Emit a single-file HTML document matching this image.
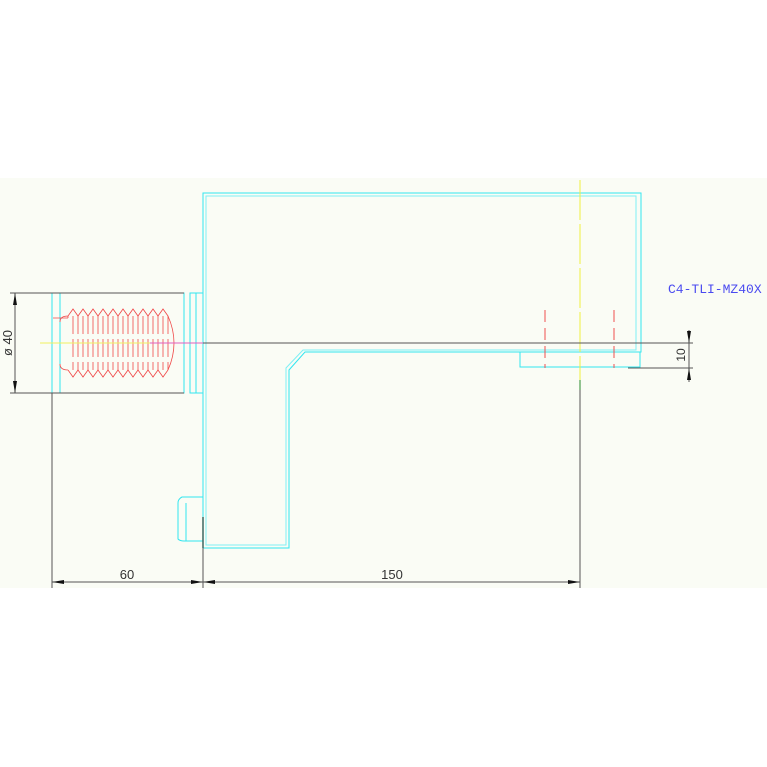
<!DOCTYPE html>
<html><head><style>body{margin:0;background:#fff}svg{display:block}</style></head><body>
<svg width="767" height="767" viewBox="0 0 767 767" xmlns="http://www.w3.org/2000/svg" font-family="Liberation Sans, sans-serif">
<rect x="0" y="178" width="767" height="410" fill="#fafcf5"/>
<g fill="none" stroke="#33e6f0" stroke-width="1">
<path d="M203,548 V193 H641 V352 H305 L289,370 V548 Z"/>
<path d="M206,545 V196 H636 V350 H303 L286,368 V545 Z" stroke="#7ff0f5"/>
<rect x="520" y="352" width="120" height="15"/>
<rect x="190" y="293" width="13" height="100"/>
<line x1="196" y1="293" x2="196" y2="393"/>
<rect x="52" y="293" width="132" height="100"/>
<line x1="60" y1="293" x2="60" y2="393"/>
<path d="M203,497 H182 Q178,499 178,503 V539 Q180,541 184,541 H203"/>
<line x1="186" y1="503" x2="186" y2="541"/>
</g>
<line x1="203" y1="517" x2="203" y2="548" stroke="#0a8a7a" stroke-width="1.5"/>
<g stroke="#f04848" stroke-width="0.8" fill="none">
<path d="M68,318 H53 M53,318 L60,318"/>
<path d="M60,322 Q60,316 68,316 L68,318 M60,364 Q60,370 68,370"/>
<path d="M68,316 l5,-7 l5,7 l5,-7 l5,7 l5,-7 l5,7 l5,-7 l5,7 l5,-7 l5,7 l5,-7 l5,7 l5,-7 l5,7 l5,-7 l5,7 l5,-7 l5,7 l5,-7 l5,7 Q180,343 168,370"/>
<path d="M68,370 l5,7 l5,-7 l5,7 l5,-7 l5,7 l5,-7 l5,7 l5,-7 l5,7 l5,-7 l5,7 l5,-7 l5,7 l5,-7 l5,7 l5,-7 l5,7 l5,-7 l5,7 l5,-7"/>
<path d="M73,316 V370 M78,316 V370 M83,316 V370 M88,316 V370 M93,316 V370 M98,316 V370 M103,316 V370 M108,316 V370 M113,316 V370 M118,316 V370 M123,316 V370 M128,316 V370 M133,316 V370 M138,316 V370 M143,316 V370 M148,316 V370 M153,316 V370 M158,316 V370 M163,316 V370 M168,316 V370" stroke-dasharray="18,5"/>
</g>
<line x1="40" y1="343" x2="200" y2="343" stroke="#f0f060" stroke-width="1"/>
<line x1="150" y1="343" x2="203" y2="343" stroke="#e060c0" stroke-width="1"/>
<line x1="580" y1="180" x2="580" y2="380" stroke="#f0f040" stroke-width="1" stroke-dasharray="40,4"/>
<line x1="580" y1="380" x2="580" y2="390" stroke="#2a8a2a" stroke-width="1"/>
<line x1="545" y1="310" x2="545" y2="368" stroke="#f05050" stroke-dasharray="12,6"/>
<line x1="614" y1="310" x2="614" y2="368" stroke="#f05050" stroke-dasharray="12,6"/>
<g stroke="#555" stroke-width="1" fill="none">
<line x1="203" y1="343" x2="693" y2="343"/>
<line x1="628" y1="368" x2="693" y2="368"/>
<line x1="689" y1="330" x2="689" y2="382"/>
<line x1="10" y1="293" x2="184" y2="293"/>
<line x1="10" y1="393" x2="184" y2="393"/>
<line x1="15" y1="293" x2="15" y2="393"/>
<line x1="52" y1="393" x2="52" y2="588"/>
<line x1="203" y1="517" x2="203" y2="588"/>
<line x1="580" y1="390" x2="580" y2="588"/>
<line x1="52" y1="582" x2="580" y2="582"/>
</g>
<g fill="#111">
<path d="M15,293 l-2,12 h4z M15,393 l-2,-12 h4z"/>
<path d="M689,343 l-2,-12 h4z M689,368 l-2,12 h4z"/>
<path d="M52,582 l12,-2 v4z M203,582 l-12,-2 v4z M203,582 l12,-2 v4z M580,582 l-12,-2 v4z"/>
</g>
<g fill="#333" font-size="13">
<text x="127" y="579" text-anchor="middle">60</text>
<text x="392" y="579" text-anchor="middle">150</text>
<text transform="translate(12,343) rotate(-90)" text-anchor="middle">ø 40</text>
<text transform="translate(685,355) rotate(-90)" text-anchor="middle" font-size="12">10</text>
</g>
<text x="668" y="293" fill="#4a4af0" font-size="13" font-family="Liberation Mono, monospace">C4-TLI-MZ40X</text>
</svg>
</body></html>
